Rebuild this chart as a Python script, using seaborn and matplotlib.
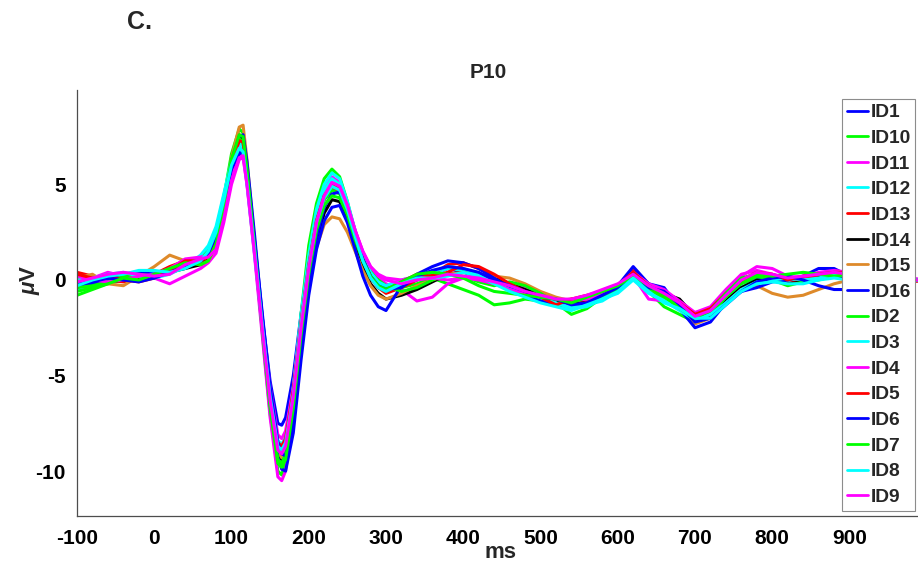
import matplotlib
matplotlib.use("Agg")
import matplotlib.pyplot as plt
import seaborn as sns
import pandas as pd

# ---------------- data ----------------
time_ms = [-100, -80, -60, -40, -20, 0, 20, 40, 60,
           70, 80, 90, 100, 110, 115, 120, 130, 140, 150, 160, 165, 170, 180, 190, 200,
           210, 220, 230, 240, 250, 260, 270, 280, 290, 300,
           320, 340, 360, 380, 400, 420, 440, 460, 480, 500, 520, 540, 560, 580, 600,
           620, 640, 660, 680, 700, 720, 740, 760, 780, 800, 820, 840, 860, 880, 900,
           920, 940, 960, 980, 1000]

subject_ids = ["ID1", "ID10", "ID11", "ID12", "ID13", "ID14", "ID15", "ID16",
               "ID2", "ID3", "ID4", "ID5", "ID6", "ID7", "ID8", "ID9"]

id1 = [-0.3, -0.2, 0.0, 0.1, 0.0, 0.2, 0.4, 0.8, 1.0,
       1.3, 2.2, 3.9, 5.7, 6.8, 6.7, 5.2, 1.6, -2.0, -5.3, -7.5, -7.6, -7.2, -5.0, -1.8, 1.0,
       3.1, 4.4, 5.0, 4.7, 3.6, 2.2, 1.0, 0.2, -0.2, -0.4,
       -0.2, 0.0, 0.3, 0.6, 0.4, 0.2, 0.1, -0.2, -0.5, -0.8, -1.0, -1.3, -1.1, -0.7, -0.4,
       0.4, -0.3, -0.7, -1.2, -1.9, -1.6, -0.8, -0.1, 0.3, 0.2, 0.0, 0.1, 0.3, 0.4, 0.2,
       0.1, 0.0, 0.1, 0.0, -0.1]
id10 = [-0.8, -0.5, -0.2, 0.0, 0.1, 0.2, 0.5, 0.8, 1.0,
        1.4, 2.4, 4.3, 6.6, 7.9, 7.7, 5.8, 1.6, -2.8, -7.0, -10.0, -10.2, -9.5, -6.2, -1.8, 1.8,
        4.0, 5.3, 5.8, 5.4, 4.1, 2.5, 1.2, 0.3, -0.2, -0.5,
        -0.4, -0.2, 0.1, -0.2, -0.5, -0.8, -1.3, -1.2, -1.0, -1.1, -1.3, -1.5, -1.3, -0.9, -0.6,
        0.2, -0.6, -1.4, -1.8, -2.2, -1.9, -1.0, -0.2, 0.1, 0.0, -0.2, 0.1, 0.3, 0.5, 0.3,
        0.2, 0.1, 0.0, 0.0, 0.0]
id11 = [-0.2, 0.1, 0.4, 0.2, 0.1, 0.1, -0.2, 0.2, 0.6,
        0.9, 1.4, 3.0, 5.0, 6.3, 6.4, 5.0, 1.2, -3.0, -7.2, -10.3, -10.5, -10.0, -7.2, -3.0, 0.6,
        3.0, 4.7, 5.4, 5.1, 4.0, 2.6, 1.4, 0.6, 0.1, -0.2,
        -0.5, -1.1, -0.9, -0.2, 0.1, 0.3, 0.0, -0.3, -0.4, -0.7, -1.0, -1.1, -0.9, -0.6, -0.3,
        0.2, -1.0, -1.1, -1.2, -1.8, -1.5, -0.6, 0.2, 0.7, 0.6, 0.2, 0.1, 0.2, 0.3, 0.4,
        0.3, 0.2, 0.1, 0.1, 0.0]
id12 = [-0.5, -0.3, -0.1, 0.2, 0.4, 0.4, 0.5, 0.6, 1.1,
        1.6, 2.6, 4.4, 6.3, 7.2, 7.0, 5.2, 1.4, -2.4, -6.0, -8.6, -8.8, -8.3, -5.6, -1.8, 1.3,
        3.7, 5.0, 5.6, 5.3, 4.1, 2.6, 1.3, 0.4, -0.2, -0.5,
        -0.3, 0.0, 0.3, 0.6, 0.5, 0.2, -0.1, -0.4, -0.7, -1.0, -1.3, -1.4, -1.3, -1.1, -0.6,
        0.1, -0.6, -1.0, -1.4, -1.9, -1.8, -1.1, -0.4, 0.0, 0.1, 0.0, -0.1, 0.1, 0.2, 0.1,
        0.0, -0.1, 0.0, 0.0, 0.0]
id13 = [0.4, 0.2, 0.0, -0.1, 0.1, 0.3, 0.7, 1.0, 1.1,
        1.3, 2.0, 3.9, 6.3, 7.6, 7.5, 5.8, 1.7, -2.4, -6.2, -8.8, -9.0, -8.6, -6.0, -2.3, 0.7,
        2.9, 4.2, 4.8, 4.6, 3.6, 2.2, 1.0, 0.1, -0.4, -0.7,
        -0.4, 0.0, 0.3, 0.8, 0.9, 0.6, 0.2, -0.2, -0.6, -0.9, -1.1, -1.0, -1.2, -0.8, -0.3,
        0.5, -0.2, -0.6, -1.1, -1.9, -1.7, -0.8, -0.1, 0.3, 0.1, -0.2, 0.0, 0.2, 0.3, 0.4,
        0.2, 0.1, 0.0, -0.1, 0.0]
id14 = [0.1, 0.0, -0.1, 0.0, 0.1, 0.2, 0.4, 0.6, 0.8,
        1.1, 1.9, 3.7, 6.0, 7.4, 7.4, 5.9, 1.9, -2.3, -6.3, -9.1, -9.4, -9.1, -6.8, -3.3, -0.3,
        2.0, 3.5, 4.2, 4.1, 3.2, 1.9, 0.7, -0.2, -0.7, -1.0,
        -0.8, -0.5, -0.1, 0.3, 0.4, 0.3, 0.1, -0.2, -0.5, -0.8, -1.1, -1.2, -1.0, -0.8, -0.5,
        0.2, -0.4, -0.7, -1.0, -1.9, -1.9, -1.1, -0.4, 0.0, 0.0, -0.2, -0.1, 0.1, 0.2, 0.1,
        0.0, 0.0, 0.0, 0.0, 0.0]
id15 = [0.1, 0.3, -0.2, -0.3, 0.2, 0.7, 1.3, 1.0, 0.8,
        1.0, 1.8, 3.8, 6.4, 8.0, 8.1, 6.3, 2.0, -2.2, -6.2, -9.0, -9.3, -9.0, -6.6, -3.0, -0.2,
        1.7, 2.9, 3.3, 3.2, 2.5, 1.5, 0.5, -0.3, -0.8, -1.0,
        -0.7, -0.3, 0.0, 0.3, 0.4, 0.3, 0.2, 0.1, -0.2, -0.6, -0.9, -1.1, -1.0, -0.9, -0.6,
        0.2, -0.5, -0.8, -1.3, -2.3, -2.0, -1.2, -0.5, -0.3, -0.7, -0.9, -0.8, -0.5, -0.2, 0.0,
        0.0, -0.1, 0.0, 0.0, 0.0]
id16 = [-0.1, -0.2, 0.0, 0.3, 0.4, 0.3, 0.5, 0.9, 1.1,
        1.4, 2.1, 3.9, 6.2, 7.5, 7.6, 6.2, 2.3, -2.0, -6.0, -9.3, -9.9, -10.0, -8.0, -4.2, -0.8,
        1.6, 3.1, 3.8, 3.9, 3.0, 1.6, 0.2, -0.8, -1.4, -1.6,
        -0.3, 0.3, 0.7, 1.0, 0.9, 0.6, 0.1, -0.4, -0.8, -1.1, -1.3, -1.1, -0.9, -0.7, -0.3,
        0.7, -0.2, -0.4, -1.5, -2.5, -2.2, -1.2, -0.6, -0.4, -0.1, 0.0, 0.2, 0.6, 0.6, 0.2,
        0.0, -0.1, 0.0, 0.0, 0.0]
id2 = [-0.4, -0.3, -0.1, 0.2, 0.3, 0.2, 0.4, 0.9, 1.2,
       1.5, 2.3, 4.1, 6.3, 7.4, 7.2, 5.5, 1.5, -2.6, -6.6, -9.4, -9.6, -9.1, -6.3, -2.4, 0.8,
       3.0, 4.2, 4.7, 4.5, 3.6, 2.4, 1.3, 0.5, 0.0, -0.3,
       -0.6, -0.4, 0.0, 0.3, 0.2, -0.1, -0.3, -0.1, -0.3, -0.7, -1.2, -1.8, -1.5, -0.9, -0.5,
       0.2, -0.5, -0.9, -1.4, -2.1, -1.8, -0.9, -0.1, 0.2, 0.0, -0.3, -0.1, 0.0, 0.2, 0.3,
       0.2, 0.1, 0.0, 0.0, 0.0]
id3 = [0.0, 0.1, 0.3, 0.4, 0.2, 0.1, 0.3, 0.7, 1.3,
       1.8, 2.8, 4.5, 6.2, 7.0, 6.8, 5.1, 1.3, -2.4, -5.9, -8.4, -8.6, -8.2, -5.7, -2.0, 1.0,
       3.3, 4.7, 5.3, 5.0, 3.9, 2.5, 1.3, 0.4, -0.1, -0.3,
       0.0, 0.2, 0.4, 0.7, 0.6, 0.3, -0.1, -0.5, -0.7, -0.9, -1.2, -1.5, -1.4, -1.0, -0.7,
       0.0, -0.7, -1.1, -1.6, -2.1, -1.8, -1.2, -0.5, -0.1, 0.0, 0.1, 0.0, 0.1, 0.3, 0.2,
       0.1, 0.0, 0.0, 0.0, 0.0]
id4 = [0.2, 0.0, -0.1, 0.0, 0.2, 0.3, 0.6, 1.1, 1.2,
       1.3, 1.8, 3.4, 5.4, 6.5, 6.6, 5.2, 1.5, -2.2, -5.6, -8.1, -8.3, -7.9, -5.6, -2.2, 0.7,
       3.0, 4.4, 5.1, 4.9, 3.9, 2.6, 1.5, 0.7, 0.3, 0.1,
       0.0, 0.2, 0.1, 0.0, 0.1, 0.0, -0.2, -0.5, -0.7, -0.8, -1.0, -1.1, -1.0, -0.7, -0.3,
       0.4, -0.2, -0.5, -1.1, -1.7, -1.4, -0.5, 0.3, 0.5, 0.3, 0.1, 0.2, 0.4, 0.5, 0.4,
       0.3, 0.2, 0.1, 0.0, 0.0]
id5 = [0.3, 0.1, 0.2, 0.0, -0.1, 0.1, 0.5, 1.0, 1.0,
       1.2, 2.0, 3.8, 6.0, 7.3, 7.2, 5.6, 1.6, -2.3, -6.0, -8.5, -8.7, -8.3, -5.8, -2.2, 0.8,
       3.1, 4.4, 5.0, 4.8, 3.8, 2.4, 1.1, 0.2, -0.4, -0.6,
       -0.1, 0.3, 0.2, 0.4, 0.8, 0.7, 0.3, -0.2, -0.6, -0.9, -1.3, -1.0, -0.8, -0.6, -0.3,
       0.4, -0.3, -0.8, -1.2, -1.8, -1.5, -0.7, 0.0, 0.4, 0.3, 0.0, 0.2, 0.3, 0.4, 0.4,
       0.3, 0.2, 0.1, 0.0, 0.0]
id6 = [-0.2, -0.1, 0.1, 0.0, -0.1, 0.1, 0.4, 0.7, 1.0,
       1.4, 2.3, 4.0, 5.8, 6.6, 6.7, 5.5, 2.0, -1.8, -5.6, -8.5, -9.1, -9.2, -7.4, -3.6, -0.4,
       2.2, 3.8, 4.5, 4.6, 3.8, 2.4, 1.1, 0.2, -0.3, -0.5,
       -0.4, 0.2, 0.5, 0.7, 0.6, 0.4, 0.0, -0.3, -0.6, -0.9, -1.0, -1.3, -1.2, -0.8, -0.4,
       0.3, -0.4, -0.6, -1.3, -2.2, -2.0, -1.3, -0.6, -0.1, 0.1, 0.2, 0.0, -0.3, -0.5, -0.5,
       -0.3, -0.2, -0.1, 0.0, 0.0]
id7 = [-0.6, -0.4, -0.2, 0.1, 0.0, 0.3, 0.6, 0.9, 0.8,
       1.0, 1.9, 3.9, 6.3, 7.6, 7.5, 5.8, 1.7, -2.6, -6.7, -9.6, -9.8, -9.4, -6.7, -2.9, 0.3,
       2.6, 3.9, 4.4, 4.3, 3.4, 2.1, 1.0, 0.2, -0.3, -0.5,
       -0.1, 0.3, 0.4, 0.3, 0.1, -0.3, -0.6, -0.7, -0.8, -0.9, -1.0, -1.2, -0.9, -0.6, -0.3,
       0.2, -0.3, -0.8, -1.5, -2.0, -1.6, -0.7, 0.1, 0.3, 0.2, 0.3, 0.4, 0.3, 0.2, 0.3,
       0.2, 0.1, 0.0, 0.0, 0.0]
id8 = [-0.3, 0.0, 0.2, 0.3, 0.5, 0.5, 0.4, 0.6, 1.0,
       1.5, 2.5, 4.2, 6.0, 6.9, 6.7, 5.1, 1.5, -2.4, -6.1, -8.7, -8.9, -8.5, -6.0, -2.3, 0.7,
       3.0, 4.3, 4.9, 4.7, 3.7, 2.3, 1.0, 0.1, -0.4, -0.6,
       -0.2, 0.1, 0.1, 0.2, 0.4, 0.2, -0.2, -0.6, -0.9, -1.2, -1.4, -1.6, -1.3, -1.0, -0.6,
       0.1, -0.6, -1.2, -1.5, -2.0, -2.0, -1.3, -0.6, -0.2, -0.1, -0.2, -0.2, 0.0, 0.1, 0.0,
       -0.1, -0.1, 0.0, 0.0, 0.0]
id9 = [-0.1, 0.1, 0.3, 0.4, 0.3, 0.2, 0.3, 0.8, 1.1,
       1.2, 1.6, 3.2, 5.2, 6.4, 6.5, 5.0, 1.3, -2.6, -6.3, -8.9, -9.1, -8.7, -6.1, -2.5, 0.6,
       3.0, 4.4, 5.1, 4.9, 3.9, 2.6, 1.5, 0.7, 0.2, 0.0,
       -0.2, 0.0, 0.1, 0.3, 0.2, 0.1, -0.1, -0.3, -0.6, -0.8, -1.0, -1.0, -0.8, -0.5, -0.2,
       0.3, -0.3, -0.7, -1.2, -1.9, -1.6, -0.8, 0.0, 0.4, 0.3, 0.1, 0.2, 0.3, 0.4, 0.3,
       0.2, 0.1, 0.0, 0.0, 0.0]

series_values = [id1, id10, id11, id12, id13, id14, id15, id16,
                 id2, id3, id4, id5, id6, id7, id8, id9]

x_ticks = [-100, 0, 100, 200, 300, 400, 500, 600, 700, 800, 900]
y_ticks = [-10, -5, 0, 5]

# ---------------- style ----------------
BLUE, GREEN, MAGENTA, CYAN = "#0000FF", "#00FF00", "#FF00FF", "#00FFFF"
RED, BLACK, ORANGE = "#FF0000", "#000000", "#DE8A2A"
colors = [BLUE, GREEN, MAGENTA, CYAN, RED, BLACK, ORANGE, BLUE,
          GREEN, CYAN, MAGENTA, RED, BLUE, GREEN, CYAN, MAGENTA]

sns.set_theme(style="white")
plt.rcParams["font.family"] = ["Liberation Sans", "DejaVu Sans"]
plt.rcParams["font.weight"] = "bold"
plt.rcParams["axes.unicode_minus"] = False
plt.rcParams["mathtext.fontset"] = "custom"
plt.rcParams["mathtext.it"] = "Liberation Sans:italic:bold"
plt.rcParams["mathtext.rm"] = "Liberation Sans:bold"

W, H = 918, 580
fig = plt.figure(figsize=(W / 100, H / 100), dpi=100)
x0, x1 = 77, 77 + 1100 * 0.7725
y_top, y_bot = 90, 516
ax = fig.add_axes([x0 / W, 1 - y_bot / H, (x1 - x0) / W, (y_bot - y_top) / H])

frames = []
for name, vals in zip(subject_ids, series_values):
    assert len(vals) == len(time_ms), (name, len(vals))
    frames.append(pd.DataFrame({"ms": time_ms, "uV": vals, "ID": name}))
df = pd.concat(frames, ignore_index=True)

for name, col in zip(subject_ids, colors):
    sub = df[df["ID"] == name]
    sns.lineplot(data=sub, x="ms", y="uV", color=col, lw=2.2, label=name,
                 ax=ax, sort=False, estimator=None)

ax.set_xlim(-100, 1000)
ax.set_ylim(-12.35, 9.94)
ax.set_xticks(x_ticks)
ax.set_yticks(y_ticks)
ax.tick_params(direction="in", length=6, width=0.8, colors="#4d4d4d",
               labelcolor="black", labelsize=15)
ax.tick_params(axis="x", pad=9.5)
ax.tick_params(axis="y", pad=8)
for lab in ax.get_xticklabels() + ax.get_yticklabels():
    lab.set_fontweight("bold")
for s in ["top", "right"]:
    ax.spines[s].set_visible(False)
for s in ["left", "bottom"]:
    ax.spines[s].set_color("#4d4d4d")
    ax.spines[s].set_linewidth(0.9)

ax.set_xlabel("")
ax.set_ylabel("")
fig.text(501 / W, 1 - 553 / H, "ms", ha="center", va="center",
         fontsize=16, fontweight="bold")
fig.text(30 / W, 1 - 280 / H, r"$\mu$V", ha="center", va="center",
         rotation=90, fontsize=16, fontweight="bold")
fig.text(488 / W, 1 - 72 / H, "P10", ha="center", va="center",
         fontsize=15, fontweight="bold")
fig.text(140 / W, 1 - 22 / H, "C.", ha="center", va="center",
         fontsize=18, fontweight="bold")

handles, labels = ax.get_legend_handles_labels()
leg = ax.legend(handles, labels, loc="upper right",
                bbox_to_anchor=(915.5 / W, 1 - 99 / H), bbox_transform=fig.transFigure,
                borderaxespad=0, frameon=True, fancybox=False, framealpha=1,
                edgecolor="#8c8c8c", handlelength=1.1,
                handletextpad=0.12, labelspacing=0.43, borderpad=0.25,
                prop={"weight": "bold", "size": 13.8})
leg.get_frame().set_linewidth(0.8)
for line in leg.get_lines():
    line.set_linewidth(2.0)

fig.savefig("out.png", dpi=100)
